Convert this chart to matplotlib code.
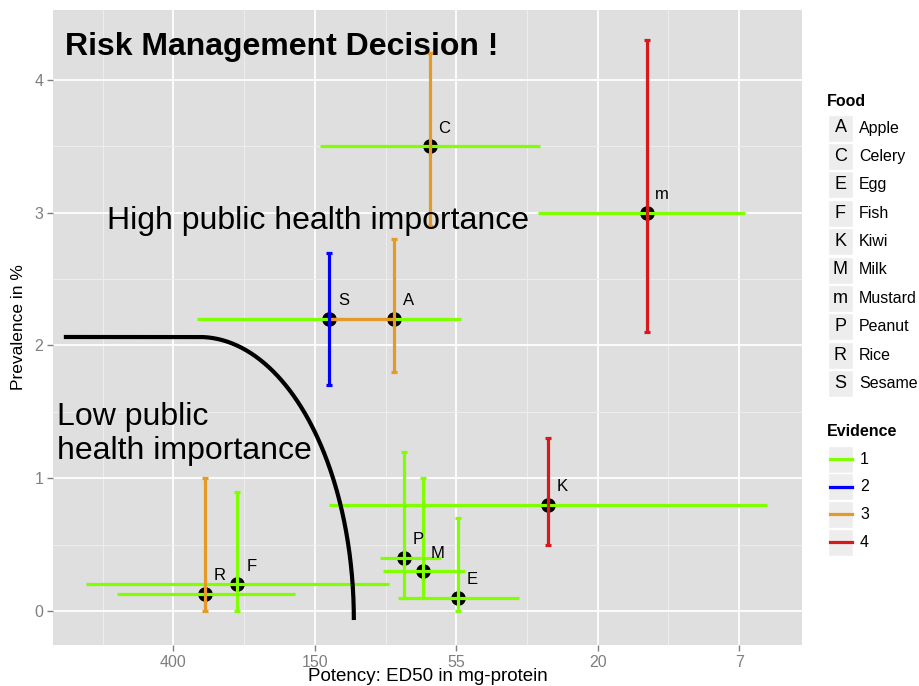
import numpy as np
import matplotlib
matplotlib.use("Agg")
import matplotlib.pyplot as plt
from matplotlib.patches import Rectangle
from matplotlib.lines import Line2D

plt.rcParams['font.family'] = ['Liberation Sans', 'DejaVu Sans']

# ---------------- data ----------------
foods = ['A', 'C', 'E', 'F', 'K', 'M', 'm', 'P', 'R', 'S']
food_names = ['Apple', 'Celery', 'Egg', 'Fish', 'Kiwi', 'Milk', 'Mustard',
              'Peanut', 'Rice', 'Sesame']
ed50 = [85, 66, 54, 257, 28.6, 69, 14.2, 79, 322, 134.5]
ed50_high = [134.5, 143, 82.7, 750, 134, 91.9, 30.7, 93.9, 602, 341]
ed50_low = [85, 30.2, 35.0, 88, 6.07, 51.2, 7.08, 60.7, 171, 52.7]
prevalence = [2.2, 3.5, 0.1, 0.2, 0.8, 0.3, 3.0, 0.4, 0.13, 2.2]
prev_low = [1.8, 2.9, 0.0, 0.0, 0.5, 0.1, 2.1, 0.1, 0.0, 1.7]
prev_high = [2.8, 4.2, 0.7, 0.9, 1.3, 1.0, 4.3, 1.2, 1.0, 2.7]
prev_evidence = [3, 3, 1, 1, 4, 1, 4, 1, 3, 2]
ed_evidence = [3, 1, 1, 1, 1, 1, 1, 1, 1, 1]

evidence_levels = [1, 2, 3, 4]
evidence_colors = {1: '#80FF00', 2: '#0000FF', 3: '#E69A26', 4: '#D7191C'}

# decision boundary parameters
boundary_left = 876
boundary_corner = 336
boundary_right = 112.7
boundary_top = 2.064
boundary_bottom = -0.068

x_breaks = [np.exp(6), np.exp(5), np.exp(4), np.exp(3), np.exp(2)]
x_labels = ['400', '150', '55', '20', '7']
y_breaks = [0, 1, 2, 3, 4]

# ---------------- figure ----------------
W, H = 920, 686
fig = plt.figure(figsize=(W / 100, H / 100), dpi=100)
ax = fig.add_axes([53 / W, 1 - 645 / H, (802 - 53) / W, (645 - 10) / H])
ax.set_facecolor('#DFDFDF')
ax.set_xscale('log')
ax.set_xlim(np.exp(6.852), np.exp(1.556))
ax.set_ylim(-0.256, 4.527)

# grid
ax.set_xticks(x_breaks)
ax.set_xticklabels(x_labels)
ax.set_xticks([np.exp(v) for v in [6.5, 5.5, 4.5, 3.5, 2.5]], minor=True)
ax.set_yticks(y_breaks)
ax.set_yticklabels([str(v) for v in y_breaks])
ax.set_yticks([0.5, 1.5, 2.5, 3.5], minor=True)
ax.grid(which='major', color='white', linewidth=1.3)
ax.grid(which='minor', color='#EEEEEE', linewidth=0.7)
ax.set_axisbelow(True)
for s in ax.spines.values():
    s.set_visible(False)
ax.tick_params(which='major', length=4, color='#7F7F7F', labelcolor='#7F7F7F',
               labelsize=11.5, width=1, pad=3)
ax.tick_params(which='minor', length=0)
ax.xaxis.set_minor_formatter(matplotlib.ticker.NullFormatter())

ax.set_xlabel('Potency: ED50 in mg-protein', fontsize=13.5, labelpad=-1)
ax.set_ylabel('Prevalence in %', fontsize=12.5, labelpad=6)

# points
ax.scatter(ed50, prevalence, s=90, color='black', zorder=3)

# horizontal error bars
for i in range(len(foods)):
    c = evidence_colors[ed_evidence[i]]
    if ed_evidence[i] == 1:
        ax.plot([ed50_high[i], ed50_low[i]], [prevalence[i], prevalence[i]],
                color=c, linewidth=2.3, zorder=4, solid_capstyle='butt')
for i in range(len(foods)):
    c = evidence_colors[ed_evidence[i]]
    if ed_evidence[i] != 1:
        ax.plot([ed50_high[i], ed50_low[i]], [prevalence[i], prevalence[i]],
                color=c, linewidth=2.3, zorder=4.5, solid_capstyle='butt')

# vertical error bars
for i in range(len(foods)):
    c = evidence_colors[prev_evidence[i]]
    ax.errorbar(ed50[i], prevalence[i],
                yerr=[[prevalence[i] - prev_low[i]], [prev_high[i] - prevalence[i]]],
                fmt='none', ecolor=c, elinewidth=2.3, capsize=2.5, capthick=2.3,
                zorder=5)

# labels
for i in range(len(foods)):
    ax.annotate(foods[i], (ed50[i], prevalence[i]), xytext=(10.5, 13),
                textcoords='offset points', ha='center', va='center',
                fontsize=12, zorder=6)

# decision boundary
u_left, u_corner, u_right = np.log(boundary_left), np.log(boundary_corner), np.log(boundary_right)
t = np.linspace(0, np.pi / 2, 200)
u_arc = u_corner - (u_corner - u_right) * np.sin(t)
y_arc = boundary_bottom + (boundary_top - boundary_bottom) * np.cos(t)
bx = np.concatenate([[boundary_left], np.exp(u_arc)])
by = np.concatenate([[boundary_top], y_arc])
ax.plot(bx, by, color='black', linewidth=3, zorder=6, solid_capstyle='butt')

# annotations
ax.text(870, 4.249, 'Risk Management Decision !', fontsize=23, fontweight='bold',
        ha='left', va='center', zorder=7)
ax.text(647, 2.938, 'High public health importance', fontsize=23,
        ha='left', va='center', zorder=7)
ax.text(920, 1.333, 'Low public\nhealth importance', fontsize=23,
        ha='left', va='center', linespacing=1.2, zorder=7)

# ---------------- legends ----------------
def fx(px):
    return px / W


def fy(py):
    return 1 - py / H


key_w, key_h = 25, 27
fig.text(fx(827), fy(101), 'Food', fontsize=11.5, fontweight='bold', ha='left', va='center')
food_rows = [128 + 28.4 * k for k in range(len(foods))]
for k, (f, n) in enumerate(zip(foods, food_names)):
    yc = food_rows[k]
    fig.patches.append(Rectangle((fx(828), fy(yc + key_h / 2)), key_w / W, key_h / H,
                                 transform=fig.transFigure, facecolor='#EDEDED',
                                 edgecolor='white', linewidth=1))
    fig.text(fx(840.5), fy(yc), f, fontsize=13, ha='center', va='center')
    fig.text(fx(859), fy(yc), n, fontsize=11.5, ha='left', va='center')

fig.text(fx(827), fy(431), 'Evidence', fontsize=11.5, fontweight='bold', ha='left', va='center')
ev_rows = [459 + 27.7 * k for k in range(len(evidence_levels))]
for k, lev in enumerate(evidence_levels):
    yc = ev_rows[k]
    fig.patches.append(Rectangle((fx(828), fy(yc + key_h / 2)), key_w / W, key_h / H,
                                 transform=fig.transFigure, facecolor='#EDEDED',
                                 edgecolor='white', linewidth=1))
    fig.lines.append(Line2D([fx(830), fx(852)], [fy(yc), fy(yc)], transform=fig.transFigure,
                            color=evidence_colors[lev], linewidth=2.3))
    fig.text(fx(860), fy(yc), str(lev), fontsize=11.5, ha='left', va='center')

fig.savefig('out.png', dpi=100, facecolor='white')
